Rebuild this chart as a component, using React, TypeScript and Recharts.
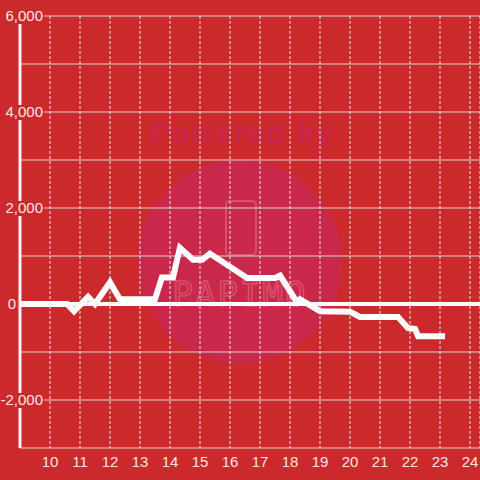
import { CartesianGrid, Line, LineChart, ReferenceLine, XAxis, YAxis } from "recharts";

const hours = [9, 10.57, 10.8, 11.27, 11.5, 12.0, 12.33, 13.5, 13.73, 14.1, 14.33, 14.77, 15.07, 15.33, 16.57, 17.5, 17.67, 18.23, 18.33, 19.0, 20.0, 20.33, 21.6, 21.93, 22.17, 22.27, 23.17];
const values = [0, 0, -150, 150, 0, 450, 100, 100, 550, 550, 1170, 920, 920, 1050, 540, 540, 590, 40, 100, -150, -160, -270, -270, -500, -520, -670, -670];
const xTicks = [10, 11, 12, 13, 14, 15, 16, 17, 18, 19, 20, 21, 22, 23, 24];
const yTicks = [-3000, -2000, -1000, 0, 1000, 2000, 3000, 4000, 5000, 6000];

const BG = "#cc292d";
const LABEL = "#f6e4e4";
const FONT = "'Liberation Sans', Arial, sans-serif";

const data = hours.map((h, i) => ({ h, v: values[i] }));

function textWidth(s: string) {
  let w = 0;
  for (const c of s) w += c === "," ? 4.2 : c === "-" ? 5 : 8.3;
  return w;
}

// labels sit over the axis line with a background patch, like the original
function YTick(props: any) {
  const { x, y, payload } = props;
  const v = payload.value as number;
  if (v % 2000 !== 0) return null;
  const label = v.toLocaleString("en-US");
  const right = x + (v === 0 ? -4 : 23);
  const w = textWidth(label);
  return (
    <g>
      <rect x={right - w - 2} y={y - 7} width={w + 3} height={15} fill={BG} />
      <text x={right} y={y} dy="0.36em" textAnchor="end" fill={LABEL} fontSize={15} fontFamily={FONT}>
        {label}
      </text>
    </g>
  );
}

function Watermark() {
  return (
    <svg width={480} height={480} style={{ position: "absolute", left: 0, top: 0 }}>
      <circle cx={240} cy={262} r={102} fill="#c9284a" />
      <text x={242} y={143} textAnchor="middle" fill="#c9264a" fontSize={30} fontWeight="bold" fontStyle="italic" fontFamily={FONT} letterSpacing={1.5}>
        Powered by
      </text>
      <rect x={226} y={201} width={30} height={54} rx={4} fill="none" stroke="#d8506a" strokeWidth={2} />
      <text x={240} y={306} textAnchor="middle" fill="none" stroke="#d8506a" strokeWidth={1.5} fontSize={34} fontFamily="'DejaVu Sans Mono', monospace" letterSpacing={2}>
        PAPIMO
      </text>
    </svg>
  );
}

export default function App() {
  return (
    <div style={{ position: "fixed", left: 0, top: 0, width: 480, height: 480, background: BG, overflow: "hidden" }}>
      <Watermark />
      <div style={{ position: "absolute", left: 0, top: 0 }}>
        <LineChart width={480} height={480} data={data} margin={{ top: 16, right: 0, left: 0, bottom: 0 }}>
          <CartesianGrid horizontal vertical={false} stroke="#d6d6d6" strokeWidth={1} />
          <CartesianGrid horizontal={false} vertical stroke="#e6e6e6" strokeDasharray="3 2" strokeWidth={1} />
          <XAxis
            dataKey="h"
            type="number"
            domain={[9, 24.333]}
            ticks={xTicks}
            allowDataOverflow
            axisLine={false}
            tickLine={false}
            height={32}
            tick={{ fill: LABEL, fontSize: 15, fontFamily: FONT }}
          />
          <ReferenceLine y={0} stroke="#ffffff" strokeWidth={4} />
          <Line dataKey="v" type="linear" stroke="#ffffff" strokeWidth={6} dot={false} isAnimationActive={false} />
          <YAxis
            type="number"
            domain={[-3000, 6000]}
            ticks={yTicks}
            width={20}
            axisLine={{ stroke: "#f4f4f4", strokeWidth: 3 }}
            tickLine={false}
            tickSize={0}
            tickMargin={0}
            tick={<YTick />}
            interval={0}
          />
        </LineChart>
      </div>
    </div>
  );
}
